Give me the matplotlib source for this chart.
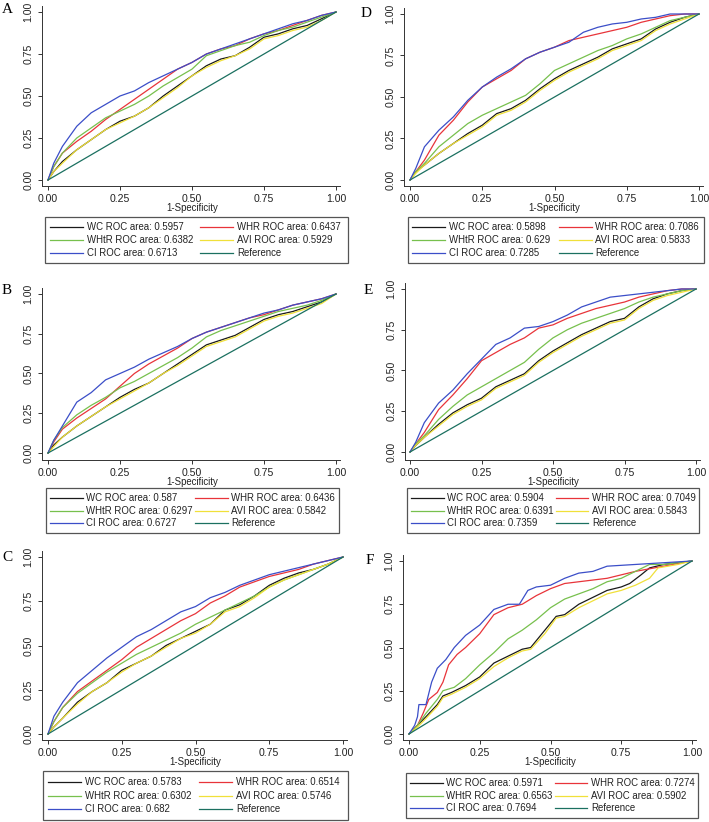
import matplotlib
matplotlib.use("Agg")
import matplotlib.pyplot as plt
from matplotlib.lines import Line2D
from matplotlib.patches import Rectangle
from matplotlib.transforms import blended_transform_factory

plt.rcParams["font.family"] = ["Liberation Sans", "DejaVu Sans"]

# common false-positive-rate grid (panels A-E)
FPR = [0, .02, .05, .1, .15, .2, .25, .3, .35, .4, .45, .5, .55, .6, .65, .7, .75, .8, .85, .9, .95, 1]

# ---- panel A
A_WC = [0, .05, .11, .18, .24, .30, .35, .38, .43, .50, .56, .62, .68, .72, .74, .79, .85, .87, .90, .92, .96, 1]
A_WHR = [0, .08, .16, .23, .29, .36, .42, .48, .54, .60, .66, .70, .75, .78, .80, .84, .87, .89, .92, .95, .98, 1]
A_WHTR = [0, .08, .16, .25, .31, .37, .41, .45, .50, .56, .61, .66, .74, .77, .80, .82, .86, .89, .91, .94, .97, 1]
A_AVI = [0, .05, .10, .18, .24, .30, .34, .38, .43, .49, .55, .62, .67, .71, .74, .78, .84, .86, .89, .91, .95, 1]
A_CI = [0, .10, .20, .32, .40, .45, .50, .53, .58, .62, .66, .70, .75, .78, .81, .84, .87, .90, .93, .95, .98, 1]
A_AUC = ["0.5957", "0.6437", "0.6382", "0.5929", "0.6713"]

# ---- panel B
B_WC = [0, .05, .10, .17, .23, .29, .35, .40, .44, .50, .56, .62, .68, .71, .74, .79, .84, .87, .89, .92, .95, 1]
B_WHR = [0, .07, .15, .22, .28, .34, .42, .50, .56, .61, .66, .72, .76, .79, .82, .85, .87, .90, .93, .95, .97, 1]
B_WHTR = [0, .08, .16, .24, .30, .35, .41, .45, .50, .55, .60, .66, .73, .77, .80, .83, .86, .89, .91, .93, .96, 1]
B_AVI = [0, .04, .10, .17, .23, .29, .34, .39, .44, .50, .55, .61, .67, .70, .73, .78, .83, .86, .88, .91, .94, 1]
B_CI = [0, .08, .17, .32, .38, .46, .50, .54, .59, .63, .67, .72, .76, .79, .82, .85, .88, .90, .93, .95, .97, 1]
B_AUC = ["0.587", "0.6436", "0.6297", "0.5842", "0.6727"]

# ---- panel C
C_WC = [0, .04, .09, .18, .24, .29, .36, .40, .44, .50, .54, .58, .62, .70, .73, .78, .84, .88, .91, .93, .96, 1]
C_WHR = [0, .07, .15, .24, .30, .36, .42, .49, .54, .59, .64, .68, .74, .78, .83, .86, .89, .91, .93, .96, .98, 1]
C_WHTR = [0, .07, .15, .23, .29, .35, .40, .45, .49, .53, .57, .62, .66, .70, .74, .78, .83, .87, .90, .93, .96, 1]
C_AVI = [0, .04, .09, .17, .24, .29, .35, .40, .44, .49, .54, .57, .62, .69, .72, .77, .83, .87, .90, .93, .96, 1]
C_CI = [0, .10, .18, .29, .36, .43, .49, .55, .59, .64, .69, .72, .77, .80, .84, .87, .90, .92, .94, .96, .98, 1]
C_AUC = ["0.5783", "0.6514", "0.6302", "0.5746", "0.682"]

# ---- panel D
D_WC = [0, .05, .09, .16, .22, .28, .33, .40, .43, .48, .55, .61, .66, .70, .74, .79, .82, .85, .91, .95, .98, 1]
D_WHR = [0, .05, .12, .27, .36, .47, .56, .61, .66, .73, .77, .80, .84, .86, .88, .90, .92, .95, .97, .99, 1, 1]
D_WHTR = [0, .05, .10, .20, .27, .34, .39, .43, .47, .51, .58, .66, .70, .74, .78, .81, .85, .88, .92, .96, .98, 1]
D_AVI = [0, .04, .09, .16, .22, .27, .32, .39, .42, .47, .54, .60, .65, .69, .73, .78, .81, .84, .90, .94, .97, 1]
D_CI = [0, .07, .20, .30, .38, .48, .56, .62, .67, .73, .77, .80, .83, .89, .92, .94, .95, .97, .98, 1, 1, 1]
D_AUC = ["0.5898", "0.7086", "0.629", "0.5833", "0.7285"]

# ---- panel E
E_WC = [0, .04, .09, .17, .24, .29, .33, .40, .44, .48, .56, .62, .67, .72, .76, .80, .82, .89, .94, .97, .99, 1]
E_WHR = [0, .05, .12, .26, .35, .45, .56, .61, .66, .70, .76, .78, .82, .85, .88, .90, .92, .95, .97, .99, 1, 1]
E_WHTR = [0, .05, .10, .20, .28, .35, .40, .45, .50, .55, .63, .70, .75, .79, .82, .85, .88, .92, .95, .97, .99, 1]
E_AVI = [0, .04, .09, .16, .23, .28, .32, .39, .43, .47, .55, .61, .66, .71, .75, .79, .81, .88, .93, .96, .98, 1]
E_CI = [0, .06, .18, .30, .38, .48, .57, .66, .70, .76, .77, .80, .84, .89, .92, .95, .96, .97, .98, .99, 1, 1]
E_AUC = ["0.5904", "0.7049", "0.6391", "0.5843", "0.7359"]

# ---- panel F (small sample, own x points per curve)
F_WC_X = [0, .03, .06, .1, .12, .15, .2, .25, .3, .35, .4, .43, .48, .52, .55, .6, .65, .7, .75, .78, .82, .85, .9, 1]
F_WC = [0, .05, .10, .17, .22, .24, .28, .33, .41, .45, .49, .50, .60, .68, .69, .75, .79, .83, .85, .87, .92, .96, .98, 1]
F_AVI_X = [0, .03, .06, .1, .12, .15, .2, .25, .3, .35, .4, .43, .48, .52, .55, .6, .65, .7, .75, .8, .85, .88, .95, 1]
F_AVI = [0, .04, .09, .16, .21, .23, .27, .32, .39, .44, .48, .49, .58, .67, .68, .73, .77, .81, .83, .86, .90, .96, .98, 1]
F_WHR_X = [0, .03, .05, .07, .1, .12, .14, .17, .2, .25, .3, .35, .4, .45, .5, .55, .6, .7, .8, .9, 1]
F_WHR = [0, .05, .12, .20, .24, .30, .40, .46, .50, .58, .69, .73, .75, .80, .84, .87, .88, .90, .94, .97, 1]
F_WHTR_X = [0, .03, .06, .1, .12, .16, .2, .25, .3, .35, .4, .45, .5, .55, .6, .65, .7, .75, .8, .85, .9, 1]
F_WHTR = [0, .05, .12, .20, .25, .27, .32, .40, .47, .55, .60, .66, .73, .78, .81, .84, .88, .90, .94, .98, .98, 1]
F_CI_X = [0, .02, .03, .035, .06, .08, .1, .13, .16, .2, .25, .3, .35, .39, .42, .45, .5, .55, .6, .65, .7, .8, .9, 1]
F_CI = [0, .05, .10, .17, .17, .30, .38, .43, .50, .57, .63, .72, .75, .75, .83, .85, .86, .90, .93, .94, .97, .98, .99, 1]
F_AUC = ["0.5971", "0.7274", "0.6563", "0.5902", "0.7694"]

TICKS = [0, .25, .5, .75, 1]
TICK_LABELS = ["0.00", "0.25", "0.50", "0.75", "1.00"]

C_WC_COL, C_WHR_COL, C_WHTR_COL = "#1a1a1a", "#e8343a", "#77c04d"
C_AVI_COL, C_CI_COL, C_REF_COL = "#f0e03a", "#3b4ec8", "#1b7060"

W, H = 709, 822
fig = plt.figure(figsize=(W / 100, H / 100), dpi=100)


def px_axes(left, top, right, bottom):
    return fig.add_axes([left / W, 1 - bottom / H, (right - left) / W, (bottom - top) / H])


def panel(letter, geo, leg, lpos, curves, aucs):
    sx, x0, x1, y1, y0, sy = geo
    right, top = x1 + 4, y1 - 6
    ax = px_axes(sx, top, right, sy)
    ax.set_xlim((sx - x0) / (x1 - x0), (right - x0) / (x1 - x0))
    ax.set_ylim((y0 - sy) / (y0 - y1), (y0 - top) / (y0 - y1))
    (wx, wy), (hx, hy), (tx, ty), (ax_, ay), (cx, cy) = curves
    ax.plot(wx, wy, color=C_WC_COL, lw=0.9)
    ax.plot(hx, hy, color=C_WHR_COL, lw=0.9)
    ax.plot(tx, ty, color=C_WHTR_COL, lw=0.9)
    ax.plot(ax_, ay, color=C_AVI_COL, lw=0.9)
    ax.plot(cx, cy, color=C_CI_COL, lw=0.9)
    ax.plot([0, 1], [0, 1], color=C_REF_COL, lw=0.9)
    for s in ("top", "right"):
        ax.spines[s].set_visible(False)
    for s in ("left", "bottom"):
        ax.spines[s].set_linewidth(0.7)
        ax.spines[s].set_color("#333333")
    ax.set_xticks(TICKS, TICK_LABELS)
    ax.set_yticks(TICKS, TICK_LABELS)
    ax.tick_params(labelsize=7.6, length=3, width=0.7, pad=3, colors="#333333",
                   labelcolor="#222222")
    plt.setp(ax.get_yticklabels(), rotation=90, va="center")
    ax.set_xlabel("1-Specificity", fontsize=6.9, color="#222222", va="center")
    ax.xaxis.set_label_coords(0.5, 1 - (sy + 22) / H,
                              transform=blended_transform_factory(ax.transData, fig.transFigure))
    fig.text(lpos[0] / W, 1 - lpos[1] / H, letter, family="Liberation Serif",
             fontsize=11, ha="left", va="top")

    # legend box
    lg = px_axes(*leg)
    lg.set_xlim(0, 1)
    lg.set_ylim(0, 1)
    lg.axis("off")
    lg.add_patch(Rectangle((0, 0), 1, 1, fill=False, edgecolor="#555555", lw=0.9,
                           transform=lg.transAxes, clip_on=False))
    entries = [
        (C_WC_COL, f"WC ROC area: {aucs[0]}", 0, 0.78),
        (C_WHR_COL, f"WHR ROC area: {aucs[1]}", 1, 0.78),
        (C_WHTR_COL, f"WHtR ROC area: {aucs[2]}", 0, 0.5),
        (C_AVI_COL, f"AVI ROC area: {aucs[3]}", 1, 0.5),
        (C_CI_COL, f"CI ROC area: {aucs[4]}", 0, 0.22),
        (C_REF_COL, "Reference", 1, 0.22),
    ]
    for col, lab, c, yy in entries:
        hx0 = 0.015 if c == 0 else 0.51
        lg.add_line(Line2D([hx0, hx0 + 0.11], [yy, yy], color=col, lw=0.9))
        lg.text(hx0 + 0.123, yy, lab, fontsize=6.9, va="center", ha="left",
                color="#222222")


panel("A", (42, 48, 336, 12, 180, 186), (45, 217, 348, 263), (2, 3),
      [(FPR, A_WC), (FPR, A_WHR), (FPR, A_WHTR), (FPR, A_AVI), (FPR, A_CI)], A_AUC)
panel("B", (42, 48, 336, 294, 453, 460), (46, 488, 339, 533), (2, 284),
      [(FPR, B_WC), (FPR, B_WHR), (FPR, B_WHTR), (FPR, B_AVI), (FPR, B_CI)], B_AUC)
panel("C", (42, 48, 343, 557, 734, 740), (43, 771, 348, 820), (2, 551),
      [(FPR, C_WC), (FPR, C_WHR), (FPR, C_WHTR), (FPR, C_AVI), (FPR, C_CI)], C_AUC)
panel("D", (404, 410, 699, 14, 180, 186), (408, 217, 704, 263), (361, 7),
      [(FPR, D_WC), (FPR, D_WHR), (FPR, D_WHTR), (FPR, D_AVI), (FPR, D_CI)], D_AUC)
panel("E", (405, 410, 696, 289, 452, 460), (407, 488, 699, 533), (364, 284),
      [(FPR, E_WC), (FPR, E_WHR), (FPR, E_WHTR), (FPR, E_AVI), (FPR, E_CI)], E_AUC)
panel("F", (403, 409, 692, 561, 734, 740), (406, 773, 698, 818), (366, 554),
      [(F_WC_X, F_WC), (F_WHR_X, F_WHR), (F_WHTR_X, F_WHTR), (F_AVI_X, F_AVI),
       (F_CI_X, F_CI)], F_AUC)

fig.savefig("out.png", dpi=100, facecolor="white")
